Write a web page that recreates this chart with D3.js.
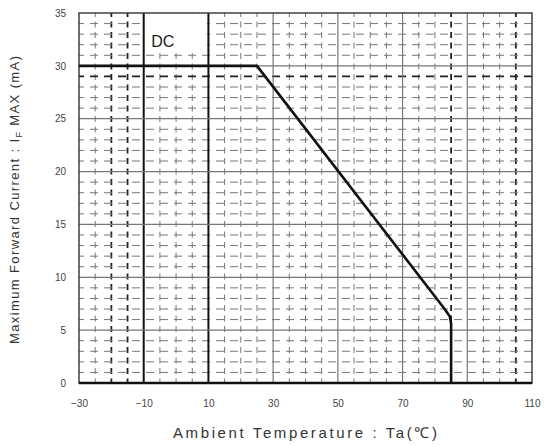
<!DOCTYPE html>
<html>
<head>
<meta charset="utf-8">
<script src="https://cdn.jsdelivr.net/npm/d3@7"></script>
<style>
  body { margin: 0; background: #fff; }
  svg { display: block; font-family: 'Liberation Sans', Arial, sans-serif; }
</style>
</head>
<body>
<div id="chart"></div>
<script>
'use strict';

// tick labels
const tempTicks = [-30, -10, 10, 30, 50, 70, 90, 110];
const currentTicks = [0, 5, 10, 15, 20, 25, 30, 35];

// derating curve (DC)
const deratingTemp = [-30, 25, 83, 84.6, 85, 85];
const deratingCurrent = [30, 30, 7, 6.3, 5.6, 0];

const width = 544,
  height = 446;

const plot = { left: 79, right: 532, top: 13, bottom: 383 };

const svg = d3.select('#chart')
  .append('svg')
  .attr('width', width)
  .attr('height', height);

const x = d3.scaleLinear()
  .domain([-30, 110])
  .range([plot.left, plot.right]);

const y = d3.scaleLinear()
  .domain([0, 35])
  .range([plot.bottom, plot.top]);

const grid = svg.append('g');

// minor grid, dashed
grid.selectAll('.minor-x')
  .data(d3.range(-30, 111, 5).filter(v => (v + 30) % 20 !== 0))
  .enter()
  .append('line')
  .attr('x1', d => x(d))
  .attr('x2', d => x(d))
  .attr('y1', y(35))
  .attr('y2', y(0))
  .attr('stroke', d => [-20, -15, 85, 105].includes(d) ? '#222' : '#777')
  .attr('stroke-width', d => [-20, -15, 85, 105].includes(d) ? 1.8 : 1)
  .attr('stroke-dasharray', '6,4.5')
  .attr('stroke-dashoffset', 2);

grid.selectAll('.minor-y')
  .data(d3.range(1, 35).filter(v => v % 5 !== 0))
  .enter()
  .append('line')
  .attr('x1', x(-30))
  .attr('x2', x(110))
  .attr('y1', d => y(d))
  .attr('y2', d => y(d))
  .attr('stroke', d => d === 29 ? '#222' : '#777')
  .attr('stroke-width', d => d === 29 ? 1.8 : 1)
  .attr('stroke-dasharray', '8,6')
  .attr('stroke-dashoffset', 3);

// major grid
grid.selectAll('.major-x')
  .data(tempTicks.slice(1, -1))
  .enter()
  .append('line')
  .attr('x1', d => x(d))
  .attr('x2', d => x(d))
  .attr('y1', y(35))
  .attr('y2', y(0))
  .attr('stroke', d => (d === -10 || d === 10) ? '#111' : '#777')
  .attr('stroke-width', d => (d === -10 || d === 10) ? 2 : 1.2);

grid.selectAll('.major-y')
  .data(currentTicks.slice(1, -1))
  .enter()
  .append('line')
  .attr('x1', x(-30))
  .attr('x2', x(110))
  .attr('y1', d => y(d))
  .attr('y2', d => y(d))
  .attr('stroke', '#777')
  .attr('stroke-width', 1.2);

// blank box behind the DC label
svg.append('rect')
  .attr('x', x(-10) + 1.5)
  .attr('y', y(35) + 1)
  .attr('width', x(10) - x(-10) - 3)
  .attr('height', y(31.2) - y(35) - 1)
  .attr('fill', '#fff');

svg.append('text')
  .attr('x', x(-7.7))
  .attr('y', y(31.8))
  .attr('font-size', 16)
  .attr('fill', '#222')
  .text('DC');

// frame
svg.append('rect')
  .attr('x', plot.left)
  .attr('y', plot.top)
  .attr('width', plot.right - plot.left)
  .attr('height', plot.bottom - plot.top)
  .attr('fill', 'none')
  .attr('stroke', '#333')
  .attr('stroke-width', 1.4);

svg.append('line')
  .attr('x1', plot.left)
  .attr('x2', plot.right)
  .attr('y1', plot.bottom)
  .attr('y2', plot.bottom)
  .attr('stroke', '#111')
  .attr('stroke-width', 2.4);

// curve
const line = d3.line()
  .x(d => x(d[0]))
  .y(d => y(d[1]));

svg.append('path')
  .datum(deratingTemp.map((t, i) => [t, deratingCurrent[i]]))
  .attr('d', line)
  .attr('fill', 'none')
  .attr('stroke', '#111')
  .attr('stroke-width', 2.6)
  .attr('stroke-linejoin', 'round');

// axes (labels only)
const xAxis = d3.axisBottom(x)
  .tickValues(tempTicks)
  .tickSize(0)
  .tickPadding(0)
  .tickFormat(d3.format('d'));

const yAxis = d3.axisLeft(y)
  .tickValues(currentTicks)
  .tickSize(0)
  .tickPadding(0);

svg.append('g')
  .attr('transform', `translate(0, ${plot.bottom + 17})`)
  .call(xAxis)
  .call(g => g.select('.domain').remove())
  .selectAll('text')
  .attr('font-size', 10)
  .attr('fill', '#444');

svg.append('g')
  .attr('transform', `translate(${plot.left - 13}, 0)`)
  .call(yAxis)
  .call(g => g.select('.domain').remove())
  .selectAll('text')
  .attr('font-size', 10)
  .attr('fill', '#444');

// axis titles
svg.append('text')
  .attr('x', 305)
  .attr('y', 438)
  .attr('text-anchor', 'middle')
  .attr('font-size', 15)
  .attr('fill', '#333')
  .attr('textLength', 264)
  .attr('lengthAdjust', 'spacing')
  .text('Ambient Temperature : Ta(℃)');

const yTitle = svg.append('text')
  .attr('transform', 'translate(19, 200) rotate(-90)')
  .attr('text-anchor', 'middle')
  .attr('font-size', 13)
  .attr('fill', '#333')
  .attr('textLength', 288)
  .attr('lengthAdjust', 'spacing');

yTitle.append('tspan').text('Maximum Forward Current : I');
yTitle.append('tspan').attr('font-size', 9).attr('dy', 3).text('F');
yTitle.append('tspan').attr('dy', -3).text(' MAX (mA)');
</script>
</body>
</html>
